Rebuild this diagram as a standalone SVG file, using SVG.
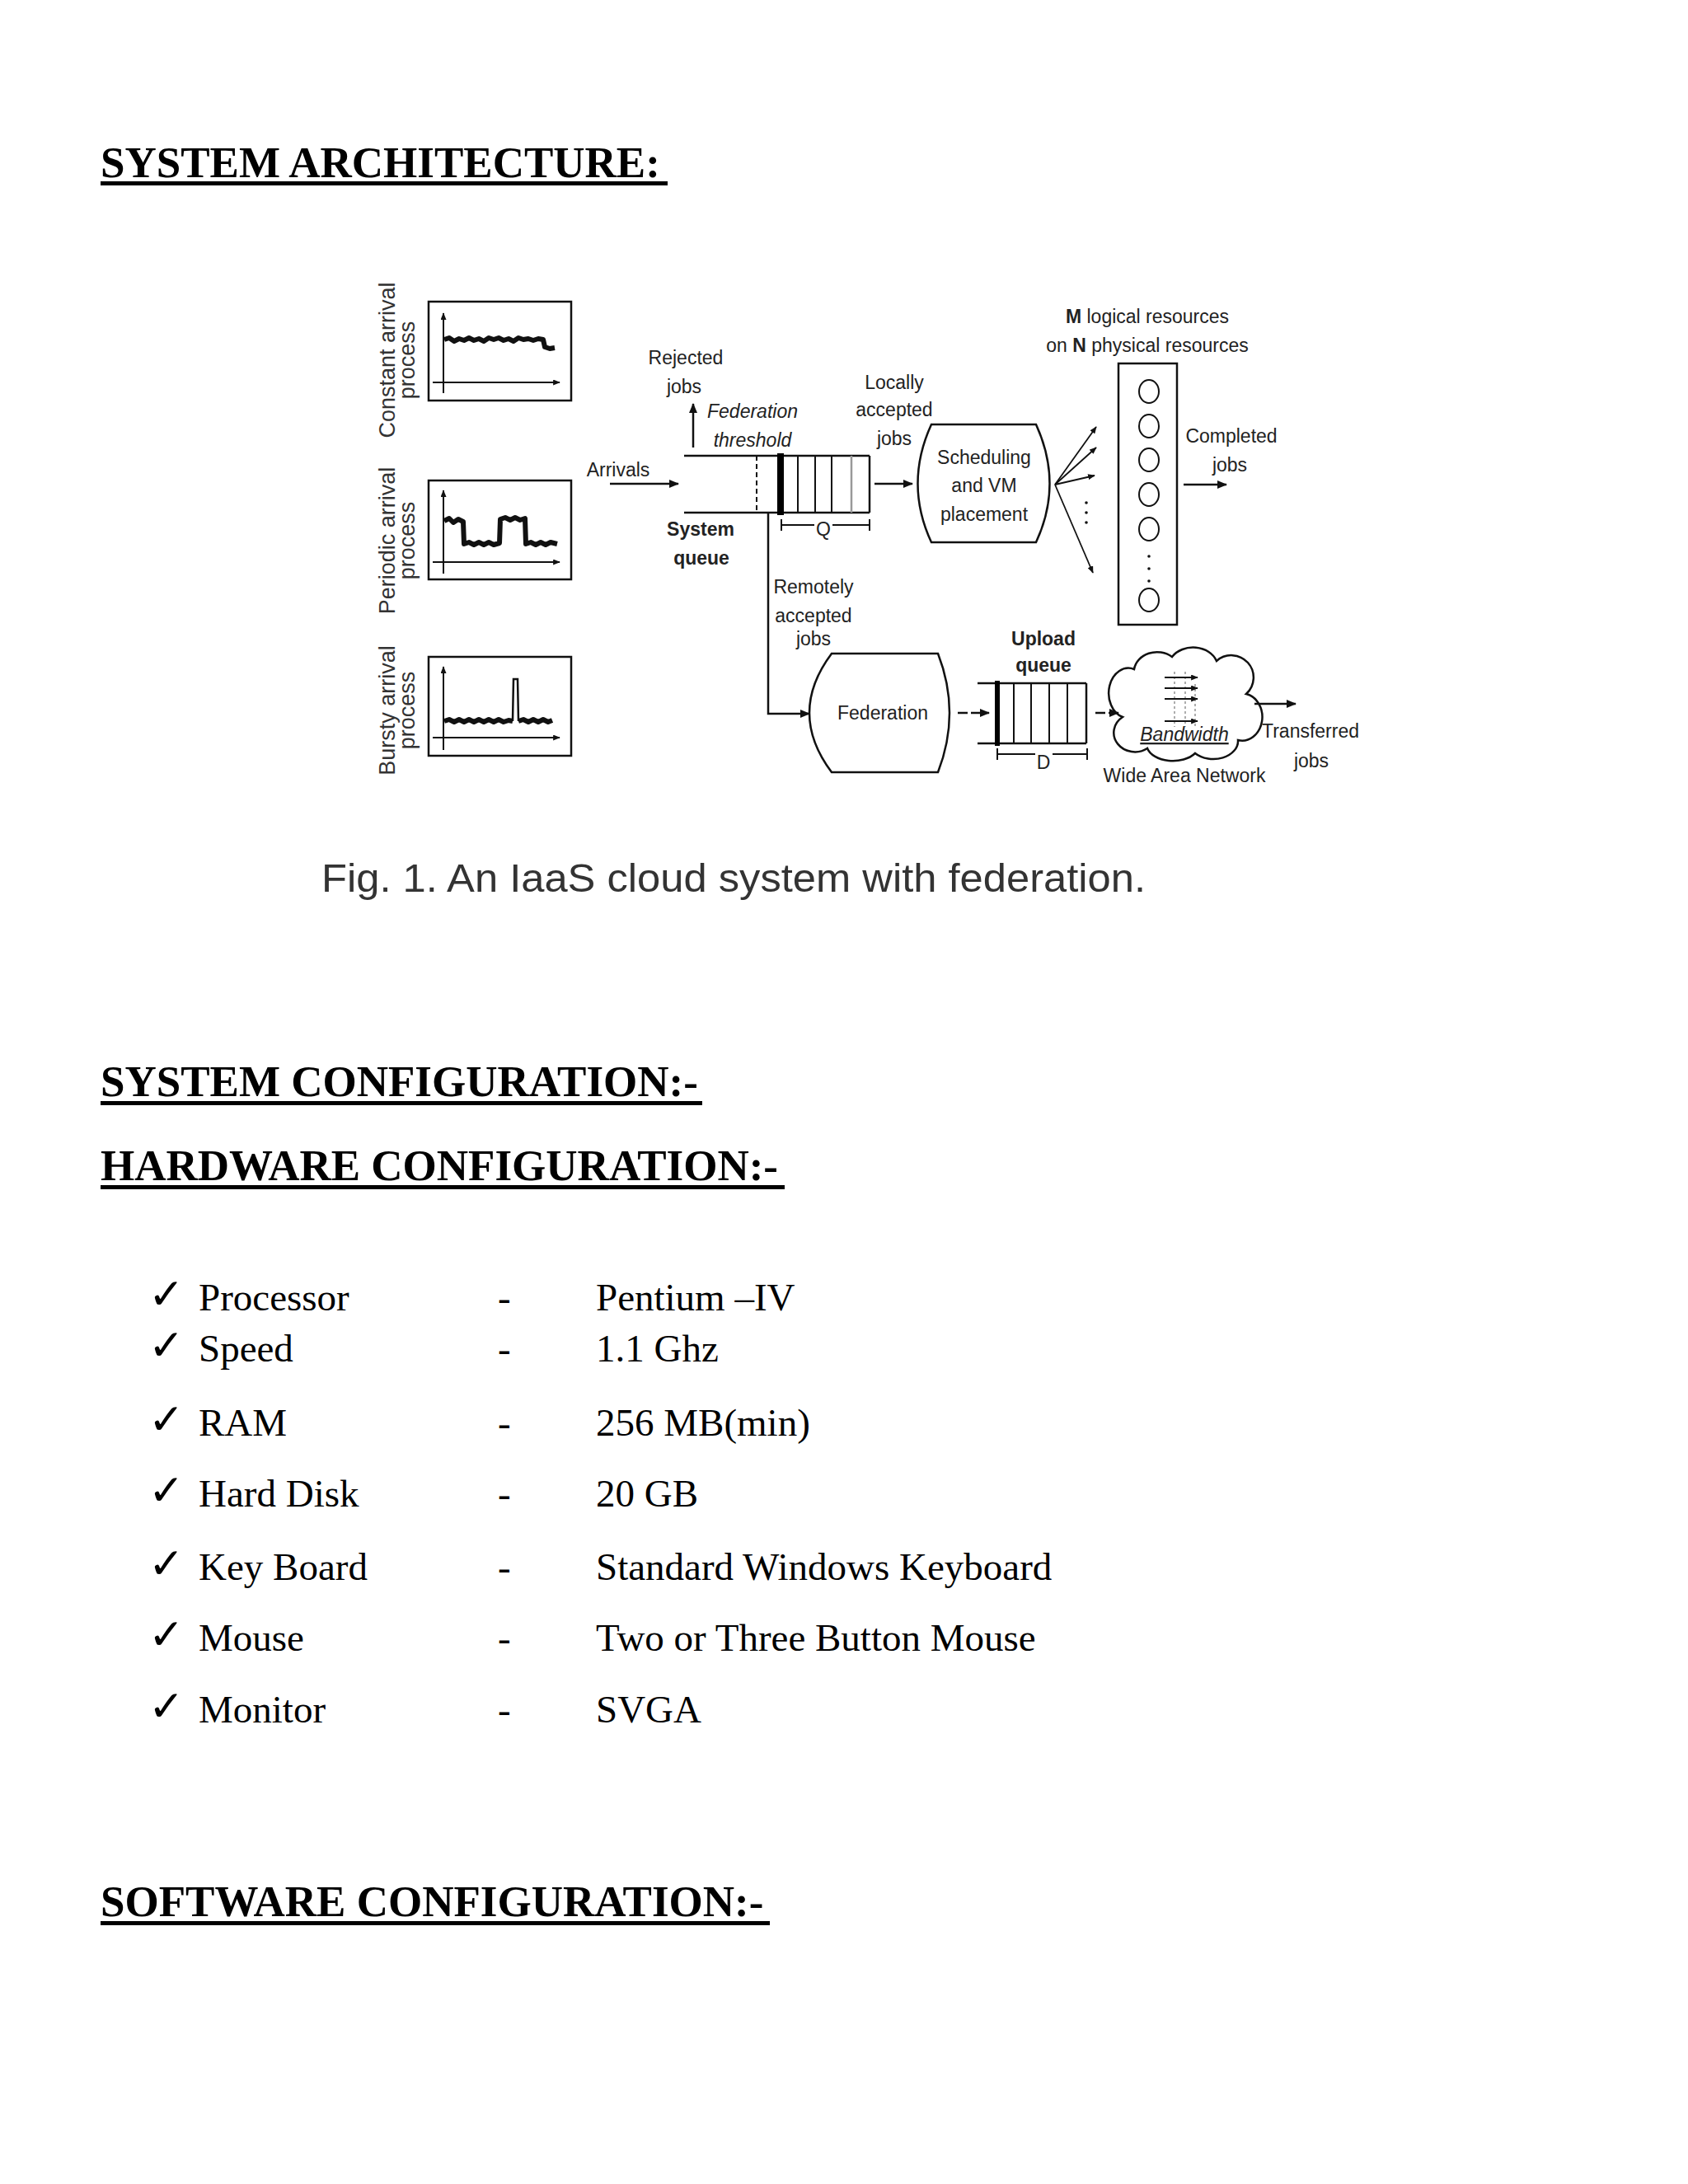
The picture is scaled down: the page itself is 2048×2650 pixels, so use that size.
<svg xmlns="http://www.w3.org/2000/svg" width="2048" height="2650" viewBox="0 0 2048 2650">
<style>
.h{font-family:"Liberation Serif","Times New Roman",serif;font-weight:bold;font-size:53px;fill:#000}
.li{font-family:"Liberation Serif","Times New Roman",serif;font-size:47px;fill:#000}
.ck{font-family:"DejaVu Sans",sans-serif;font-size:52px;fill:#000}
.t{font-family:"Liberation Sans",Arial,sans-serif;font-size:23px;fill:#222;text-anchor:middle}
.ti{font-family:"Liberation Sans",Arial,sans-serif;font-size:23px;fill:#222;text-anchor:middle;font-style:italic}
.tb{font-family:"Liberation Sans",Arial,sans-serif;font-size:23px;fill:#222;text-anchor:middle;font-weight:bold}
.rot{font-family:"Liberation Sans",Arial,sans-serif;font-size:27px;fill:#333;text-anchor:middle}
.ln{stroke:#111;stroke-width:2.5;fill:none}
.thin{stroke:#111;stroke-width:2;fill:none}
.box{stroke:#111;stroke-width:2.5;fill:#fff}
.sig{stroke:#111;stroke-width:6;fill:none;stroke-linejoin:round}
.arr{stroke:#111;stroke-width:2.5;fill:none;marker-end:url(#ah)}
.arrs{stroke:#111;stroke-width:1.8;fill:none;marker-end:url(#ahs)}
.cap{font-family:"Liberation Sans",Arial,sans-serif;font-size:48px;fill:#333}
</style>
<defs>
<marker id="ah" viewBox="0 0 12 10" refX="11" refY="5" markerWidth="12" markerHeight="10" markerUnits="userSpaceOnUse" orient="auto">
<path d="M0,0 L12,5 L0,10 Z" fill="#111"/>
</marker>
<marker id="ahs" viewBox="0 0 10 8" refX="9" refY="4" markerWidth="9" markerHeight="7" markerUnits="userSpaceOnUse" orient="auto">
<path d="M0,0 L10,4 L0,8 Z" fill="#111"/>
</marker>
</defs>
<rect width="2048" height="2650" fill="#fff"/>

<!-- Headings -->
<g id="heading-arch">
<text class="h" x="122" y="215">SYSTEM ARCHITECTURE:</text>
<rect x="122" y="220" width="688" height="5" fill="#000"/>
</g>

<!-- Arrival process charts -->
<g id="chart-constant">
<rect class="box" x="520" y="366" width="173" height="120"/>
<line class="thin" x1="538" y1="477" x2="538" y2="380" marker-end="url(#ahs)"/>
<line class="thin" x1="525" y1="464" x2="679" y2="464" marker-end="url(#ahs)"/>
<polyline class="sig" points="539,412 545,410 551,414 557,411 563,413 569,410 575,413 581,411 587,414 593,410 599,412 605,410 611,413 617,411 623,414 629,410 635,412 641,411 647,413 653,411 659,412 661,421 667,423 673,422"/>
<text class="rot" transform="translate(479,437) rotate(-90)">Constant arrival</text>
<text class="rot" transform="translate(503,437) rotate(-90)">process</text>
</g>
<g id="chart-periodic">
<rect class="box" x="520" y="583" width="173" height="120"/>
<line class="thin" x1="538" y1="696" x2="538" y2="595" marker-end="url(#ahs)"/>
<line class="thin" x1="525" y1="682" x2="679" y2="682" marker-end="url(#ahs)"/>
<polyline class="sig" points="539,632 545,629 550,634 556,630 562,633 563,660 569,658 575,661 581,658 587,661 593,658 599,661 606,659 607,630 613,628 619,631 625,628 631,631 637,629 638,660 644,658 650,661 656,658 662,661 668,658 676,660"/>
<text class="rot" transform="translate(479,656) rotate(-90)">Periodic arrival</text>
<text class="rot" transform="translate(503,656) rotate(-90)">process</text>
</g>
<g id="chart-bursty">
<rect class="box" x="520" y="797" width="173" height="120"/>
<line class="thin" x1="538" y1="910" x2="538" y2="809" marker-end="url(#ahs)"/>
<line class="thin" x1="525" y1="895" x2="679" y2="895" marker-end="url(#ahs)"/>
<polyline class="sig" points="539,875 545,873 551,876 557,873 563,876 569,873 575,876 581,873 587,876 593,873 599,876 605,873 611,876 617,874 622,875"/>
<polyline class="ln" points="622,875 623,824 628,824 629,875"/>
<polyline class="sig" points="629,875 635,873 641,876 647,873 653,876 659,873 665,876 670,874"/>
<text class="rot" transform="translate(479,862) rotate(-90)">Bursty arrival</text>
<text class="rot" transform="translate(503,862) rotate(-90)">process</text>
</g>

<!-- System queue -->
<g id="system-queue">
<line class="ln" x1="830" y1="553" x2="1055" y2="553"/>
<line class="ln" x1="830" y1="622" x2="1055" y2="622"/>
<line class="thin" x1="918" y1="553" x2="918" y2="622" stroke-dasharray="6 4"/>
<rect x="943" y="550" width="8" height="75" fill="#000"/>
<line class="thin" x1="968" y1="553" x2="968" y2="622"/>
<line class="thin" x1="989" y1="553" x2="989" y2="622"/>
<line class="thin" x1="1009" y1="553" x2="1009" y2="622"/>
<line x1="1033" y1="553" x2="1033" y2="622" stroke="#999" stroke-width="2.5"/>
<line class="ln" x1="1055" y1="553" x2="1055" y2="622"/>
<line class="thin" x1="948" y1="630" x2="948" y2="644"/>
<line class="thin" x1="1055" y1="630" x2="1055" y2="644"/>
<line class="thin" x1="948" y1="637" x2="988" y2="637"/>
<line class="thin" x1="1010" y1="637" x2="1055" y2="637"/>
<text class="t" x="999" y="650" font-size="26">Q</text>
<text class="tb" x="850" y="650">System</text>
<text class="tb" x="851" y="685">queue</text>
</g>

<g id="labels-left">
<text class="t" x="832" y="442">Rejected</text>
<text class="t" x="830" y="477">jobs</text>
<text class="ti" x="913" y="507">Federation</text>
<text class="ti" x="913" y="542">threshold</text>
<text class="t" x="750" y="578">Arrivals</text>
<text class="t" x="1085" y="472">Locally</text>
<text class="t" x="1085" y="505">accepted</text>
<text class="t" x="1085" y="540">jobs</text>
<text class="t" x="987" y="720">Remotely</text>
<text class="t" x="987" y="755">accepted</text>
<text class="t" x="987" y="783">jobs</text>
</g>

<!-- Scheduling -->
<g id="scheduling">
<path class="box" d="M1130,515 L1257,515 Q1290,587 1257,658 L1130,658 Q1097,587 1130,515 Z"/>
<text class="t" x="1194" y="563">Scheduling</text>
<text class="t" x="1194" y="597">and VM</text>
<text class="t" x="1194" y="632">placement</text>
</g>

<!-- Resources -->
<g id="resources">
<text class="t" x="1392" y="392"><tspan font-weight="bold">M</tspan> logical resources</text>
<text class="t" x="1392" y="427">on <tspan font-weight="bold">N</tspan> physical resources</text>
<rect class="box" x="1357" y="441" width="71" height="317"/>
<g stroke="#111" stroke-width="2" fill="none">
<ellipse cx="1394" cy="475" rx="12" ry="14"/>
<ellipse cx="1394" cy="517" rx="12" ry="14"/>
<ellipse cx="1394" cy="558" rx="12" ry="14"/>
<ellipse cx="1394" cy="600" rx="12" ry="14"/>
<ellipse cx="1394" cy="642" rx="12" ry="14"/>
<ellipse cx="1394" cy="728" rx="12" ry="14"/>
</g>
<g fill="#111">
<circle cx="1394" cy="675" r="1.8"/>
<circle cx="1394" cy="690" r="1.8"/>
<circle cx="1394" cy="705" r="1.8"/>
</g>
<text class="t" x="1494" y="537">Completed</text>
<text class="t" x="1492" y="572">jobs</text>
</g>

<!-- Federation -->
<g id="federation">
<path class="box" d="M1009,793 L1138,793 Q1166,865 1138,937 L1009,937 Q955,865 1009,793 Z"/>
<text class="t" x="1071" y="873">Federation</text>
</g>

<!-- Upload queue -->
<g id="upload-queue">
<text class="tb" x="1266" y="783">Upload</text>
<text class="tb" x="1266" y="815">queue</text>
<line class="ln" x1="1186" y1="829" x2="1318" y2="829"/>
<line class="ln" x1="1186" y1="902" x2="1318" y2="902"/>
<rect x="1207" y="826" width="6" height="79" fill="#000"/>
<line class="thin" x1="1230" y1="829" x2="1230" y2="902"/>
<line class="thin" x1="1251" y1="829" x2="1251" y2="902"/>
<line class="thin" x1="1273" y1="829" x2="1273" y2="902"/>
<line class="thin" x1="1295" y1="829" x2="1295" y2="902"/>
<line class="ln" x1="1318" y1="829" x2="1318" y2="902"/>
<line class="thin" x1="1210" y1="908" x2="1210" y2="922"/>
<line class="thin" x1="1319" y1="908" x2="1319" y2="922"/>
<line class="thin" x1="1210" y1="915" x2="1256" y2="915"/>
<line class="thin" x1="1277" y1="915" x2="1319" y2="915"/>
<text class="t" x="1266" y="933" font-size="25">D</text>
</g>

<!-- Cloud / WAN -->
<g id="wan-cloud">
<path class="box" d="M1362,870 A22,28 0 0,1 1376,812 A28,24 0 0,1 1422,797 A30,24 0 0,1 1476,802 A26,26 0 0,1 1512,842 A24,28 0 0,1 1502,898 A30,22 0 0,1 1450,914 A32,20 0 0,1 1392,908 A22,20 0 0,1 1362,870 Z"/>
<g stroke="#777" stroke-width="1.2" stroke-dasharray="3 3">
<line x1="1425" y1="815" x2="1425" y2="882"/>
<line x1="1438" y1="815" x2="1438" y2="882"/>
<line x1="1450" y1="830" x2="1450" y2="882"/>
</g>
<line class="arrs" x1="1413" y1="822" x2="1453" y2="822"/>
<line class="arrs" x1="1413" y1="835" x2="1453" y2="835"/>
<line class="arrs" x1="1413" y1="848" x2="1453" y2="848"/>
<line class="arrs" x1="1413" y1="875" x2="1453" y2="875"/>
<text class="ti" x="1437" y="899" text-decoration="underline">Bandwidth</text>
<text class="t" x="1437" y="949">Wide Area Network</text>
<text class="t" x="1590" y="895">Transferred</text>
<text class="t" x="1591" y="931">jobs</text>
</g>

<!-- Connectors -->
<g id="connectors">
<line class="arr" x1="841" y1="543" x2="841" y2="490"/>
<line class="arr" x1="740" y1="587" x2="823" y2="587"/>
<line class="arr" x1="1061" y1="587" x2="1107" y2="587"/>
<line class="arrs" x1="1280" y1="588" x2="1330" y2="518"/>
<line class="arrs" x1="1280" y1="588" x2="1330" y2="543"/>
<line class="arrs" x1="1280" y1="588" x2="1328" y2="577"/>
<line class="arrs" x1="1280" y1="588" x2="1326" y2="695"/>
<g fill="#111">
<circle cx="1318" cy="610" r="1.8"/>
<circle cx="1318" cy="622" r="1.8"/>
<circle cx="1318" cy="634" r="1.8"/>
</g>
<line class="arr" x1="1436" y1="588" x2="1488" y2="588"/>
<polyline class="arr" points="932,622 932,866 982,866"/>
<line class="arr" x1="1162" y1="865" x2="1200" y2="865" stroke-dasharray="12 4"/>
<line class="arr" x1="1329" y1="865" x2="1357" y2="865" stroke-dasharray="12 4"/>
<line class="arr" x1="1522" y1="854" x2="1572" y2="854"/>
</g>

<g id="caption">
<text class="cap" x="390" y="1082" textLength="1000" lengthAdjust="spacingAndGlyphs">Fig. 1.  An IaaS cloud system with federation.</text>
</g>

<g id="heading-config">
<text class="h" x="122" y="1330">SYSTEM CONFIGURATION:-</text>
<rect x="122" y="1336" width="730" height="5" fill="#000"/>
<text class="h" x="122" y="1432">HARDWARE CONFIGURATION:-</text>
<rect x="122" y="1438" width="830" height="5" fill="#000"/>
</g>

<g id="hardware-list">
<text class="ck" x="180" y="1588">✓</text><text class="li" x="241" y="1590">Processor</text><text class="li" x="604" y="1590">-</text><text class="li" x="723" y="1590">Pentium –IV</text>
<text class="ck" x="180" y="1650">✓</text><text class="li" x="241" y="1652">Speed</text><text class="li" x="604" y="1652">-</text><text class="li" x="723" y="1652">1.1 Ghz</text>
<text class="ck" x="180" y="1740">✓</text><text class="li" x="241" y="1742">RAM</text><text class="li" x="604" y="1742">-</text><text class="li" x="723" y="1742">256 MB(min)</text>
<text class="ck" x="180" y="1826">✓</text><text class="li" x="241" y="1828">Hard Disk</text><text class="li" x="604" y="1828">-</text><text class="li" x="723" y="1828">20 GB</text>
<text class="ck" x="180" y="1915">✓</text><text class="li" x="241" y="1917">Key Board</text><text class="li" x="604" y="1917">-</text><text class="li" x="723" y="1917">Standard Windows Keyboard</text>
<text class="ck" x="180" y="2001">✓</text><text class="li" x="241" y="2003">Mouse</text><text class="li" x="604" y="2003">-</text><text class="li" x="723" y="2003">Two or Three Button Mouse</text>
<text class="ck" x="180" y="2088">✓</text><text class="li" x="241" y="2090">Monitor</text><text class="li" x="604" y="2090">-</text><text class="li" x="723" y="2090">SVGA</text>
</g>

<g id="heading-software">
<text class="h" x="122" y="2325">SOFTWARE CONFIGURATION:-</text>
<rect x="122" y="2331" width="812" height="5" fill="#000"/>
</g>
</svg>
